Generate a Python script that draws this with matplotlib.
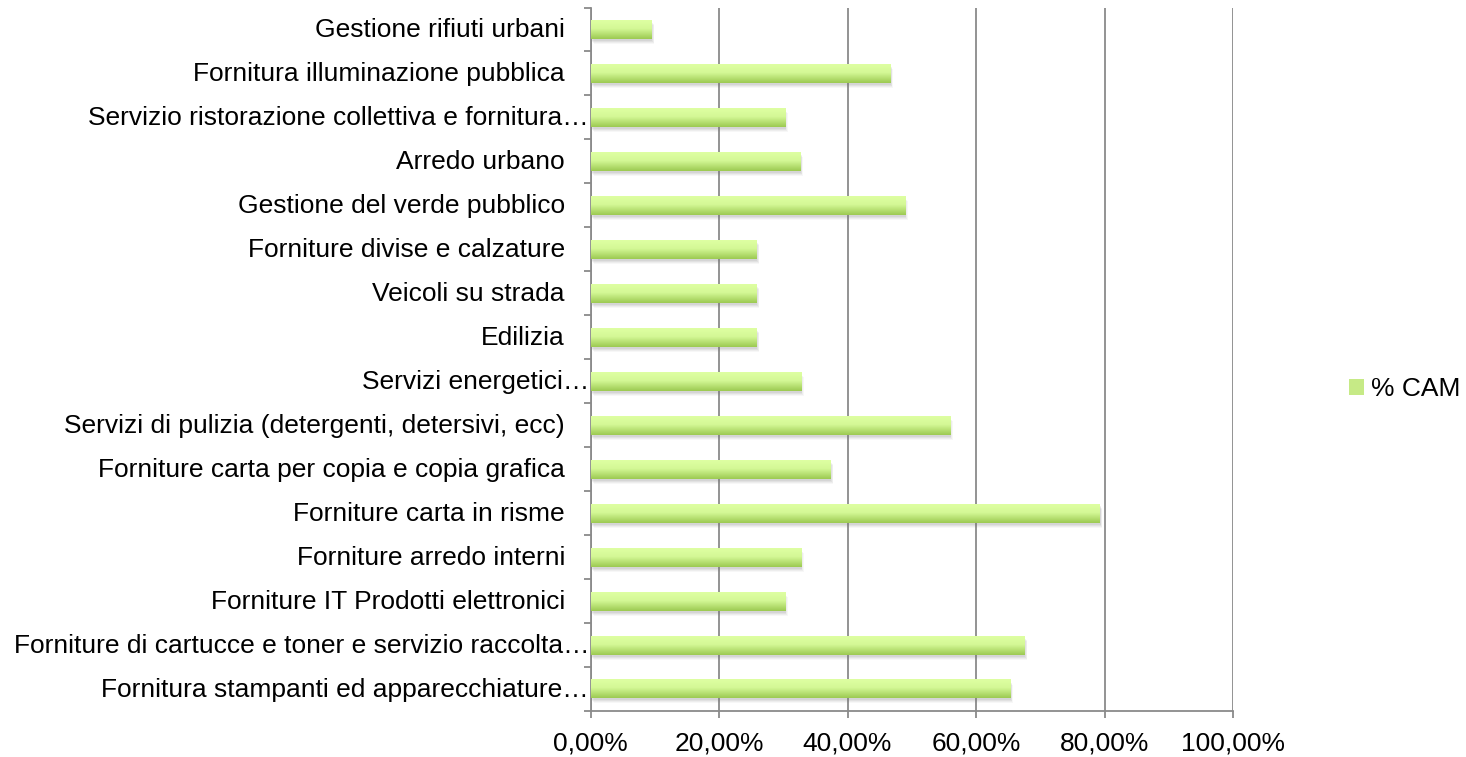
import matplotlib
matplotlib.use("Agg")
import matplotlib.pyplot as plt
import numpy as np
from matplotlib.patches import Rectangle
from matplotlib.colors import LinearSegmentedColormap
from matplotlib.ticker import FuncFormatter, FixedLocator
import matplotlib.transforms as mtransforms

plt.rcParams['font.family'] = ['Liberation Sans', 'DejaVu Sans']

# Categories listed top to bottom as in the chart
categories = [
    "Gestione rifiuti urbani",
    "Fornitura illuminazione pubblica",
    "Servizio ristorazione collettiva e fornitura…",
    "Arredo urbano",
    "Gestione del verde pubblico",
    "Forniture divise e calzature",
    "Veicoli su strada",
    "Edilizia",
    "Servizi energetici…",
    "Servizi di pulizia (detergenti, detersivi, ecc)",
    "Forniture carta per copia e copia grafica",
    "Forniture carta in risme",
    "Forniture arredo interni",
    "Forniture IT Prodotti elettronici",
    "Forniture di cartucce e toner e servizio raccolta…",
    "Fornitura stampanti ed apparecchiature…",
]
values = [9.45, 46.6, 30.2, 32.6, 48.9, 25.8, 25.8, 25.8, 32.7,
          55.9, 37.3, 79.2, 32.7, 30.2, 67.5, 65.3]
series_name = "% CAM"
x_ticks = [0, 20, 40, 60, 80, 100]

W, H, DPI = 1466, 757, 100
FS = 19
fig = plt.figure(figsize=(W / DPI, H / DPI), dpi=DPI)
ax = fig.add_axes([590.5 / W, 1 - 711 / H, (1233 - 590.5) / W, (711 - 7.5) / H])

n = len(categories)
ypos = np.arange(n)[::-1]  # first category at top
bar_h = 0.43
grid_c = "#8a8a8a"

bars = ax.barh(ypos, values, height=bar_h, color="#bfe37a", zorder=3, linewidth=0)

# gradient colormap (top light -> bottom darker)
cmap = LinearSegmentedColormap.from_list(
    "g", [(0.0, (222/255, 255/255, 162/255)),
          (0.45, (212/255, 248/255, 150/255)),
          (1.0, (156/255, 202/255, 82/255))])
grad = np.linspace(0, 1, 64).reshape(-1, 1)

for p in bars:
    x0, y0, w, h = p.get_x(), p.get_y(), p.get_width(), p.get_height()
    # soft shadow
    for k, a in [(5, 0.05), (4, 0.07), (3, 0.09), (2, 0.10)]:
        tr = ax.transData + mtransforms.ScaledTranslation(k * 0.6 / DPI, -k / DPI, fig.dpi_scale_trans)
        ax.add_patch(Rectangle((x0, y0), w, h, facecolor="#707070", alpha=a,
                               linewidth=0, transform=tr, zorder=2))
    ax.imshow(grad, cmap=cmap, aspect="auto", interpolation="bilinear",
              extent=[x0, x0 + w, y0, y0 + h], origin="upper", zorder=4)

ax.set_xlim(0, 100)
ax.set_ylim(-0.5, n - 0.5)

# x axis
ax.xaxis.set_major_locator(FixedLocator(x_ticks))
ax.xaxis.set_major_formatter(FuncFormatter(lambda v, pos: f"{v:.2f}%".replace(".", ",")))
ax.tick_params(axis="x", length=5, width=1.3, color=grid_c, labelsize=FS,
               pad=10, labelcolor="black")
ax.grid(axis="x", color=grid_c, linewidth=1.3, zorder=1)
ax.set_axisbelow(True)

# y axis: ticks at category boundaries, labels drawn as text
ax.set_yticks([])
ax.yaxis.set_minor_locator(FixedLocator(np.arange(-0.5, n, 1.0)))
ax.tick_params(axis="y", which="minor", length=5, width=1.3, color=grid_c)

for yy, lab in zip(ypos, categories):
    off = 1.5 if lab.endswith("…") else 25.5
    ax.annotate(lab, xy=(0, yy), xycoords=("axes fraction", "data"),
                xytext=(-off, -1), textcoords="offset pixels",
                ha="right", va="center", fontsize=FS, color="black")

for s in ["top", "right"]:
    ax.spines[s].set_visible(False)
for s in ["left", "bottom"]:
    ax.spines[s].set_color(grid_c)
    ax.spines[s].set_linewidth(1.3)

# legend
handle = Rectangle((0, 0), 1, 1, facecolor="#c6ea86", edgecolor="none")
leg = fig.legend([handle], [series_name], loc="center left",
                 bbox_to_anchor=(1349 / W, 1 - 389 / H), frameon=False,
                 fontsize=FS, handlelength=0.57, handleheight=0.57,
                 handletextpad=0.25, borderpad=0, borderaxespad=0)

fig.savefig("out.png", dpi=DPI)
